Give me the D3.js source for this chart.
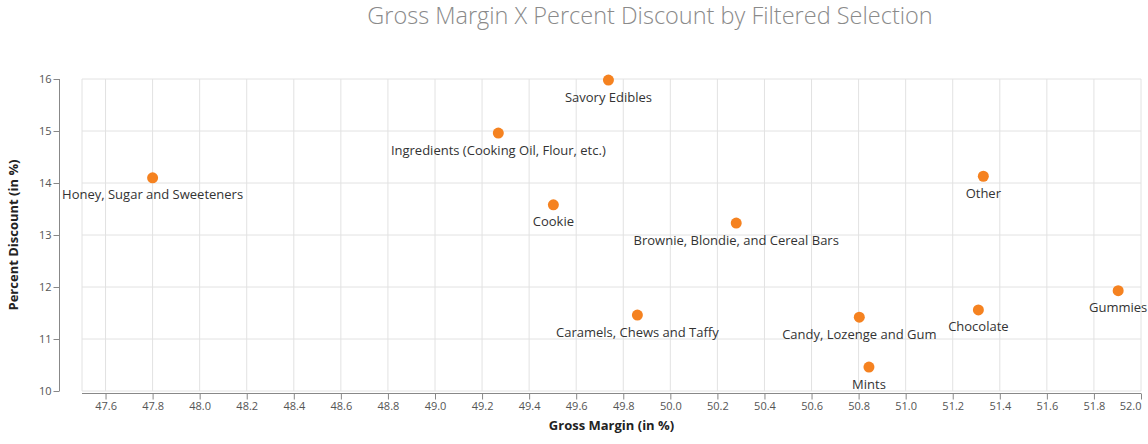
<!DOCTYPE html>
<html>
<head>
<meta charset="utf-8">
<script src="https://cdn.jsdelivr.net/npm/d3@7"></script>
<style>
  html, body { margin: 0; padding: 0; background: #fff; }
  svg { display: block; font-family: "Open Sans", sans-serif; }
</style>
</head>
<body>
<svg id="chart" width="1148" height="444"></svg>
<script>
const categories = [
  "Savory Edibles",
  "Ingredients (Cooking Oil, Flour, etc.)",
  "Honey, Sugar and Sweeteners",
  "Cookie",
  "Brownie, Blondie, and Cereal Bars",
  "Other",
  "Gummies",
  "Chocolate",
  "Candy, Lozenge and Gum",
  "Mints",
  "Caramels, Chews and Taffy"
];
const grossMargin = [49.737, 49.269, 47.80, 49.503, 50.28, 51.33, 51.903, 51.309, 50.803, 50.844, 49.86];
const percentDiscount = [15.98, 14.96, 14.10, 13.58, 13.23, 14.13, 11.93, 11.56, 11.42, 10.46, 11.46];
const xTicks = [47.6, 47.8, 48.0, 48.2, 48.4, 48.6, 48.8, 49.0, 49.2, 49.4, 49.6, 49.8, 50.0, 50.2, 50.4, 50.6, 50.8, 51.0, 51.2, 51.4, 51.6, 51.8, 52.0];
const yTicks = [10, 11, 12, 13, 14, 15, 16];
const xDomain = [47.5, 52.0];
const yDomain = [10, 16];

const svg = d3.select("#chart");
const x = d3.scaleLinear().domain(xDomain).range([82, 1141]);
const y = d3.scaleLinear().domain(yDomain).range([391, 79]);

// title
svg.append("text")
  .attr("x", 650).attr("y", 23.5)
  .attr("text-anchor", "middle")
  .attr("font-size", 23.5).attr("font-weight", 300)
  .attr("fill", "#8a8a8a")
  .text("Gross Margin X Percent Discount by Filtered Selection");

// grid
const grid = svg.append("g");
grid.selectAll("line.v").data(xTicks).enter().append("line")
  .attr("x1", d => x(d)).attr("x2", d => x(d))
  .attr("y1", y(yDomain[0])).attr("y2", y(yDomain[1]))
  .attr("stroke", "#e2e2e2").attr("stroke-width", 1);
grid.append("line")
  .attr("x1", x(xDomain[0])).attr("x2", x(xDomain[0]))
  .attr("y1", y(yDomain[0])).attr("y2", y(yDomain[1]))
  .attr("stroke", "#e2e2e2");
grid.selectAll("line.h").data(yTicks).enter().append("line")
  .attr("x1", x(xDomain[0])).attr("x2", x(xDomain[1]))
  .attr("y1", d => y(d)).attr("y2", d => y(d))
  .attr("stroke", "#e2e2e2").attr("stroke-width", 1);

// x axis
const xAxis = d3.axisBottom(x).tickValues(xTicks).tickFormat(d3.format(".1f")).tickSize(6).tickPadding(3);
const gx = svg.append("g").attr("transform", "translate(0,393.5)").call(xAxis);
gx.select(".domain").attr("stroke", "#888").attr("d", `M${x(xDomain[0])},0H${x(xDomain[1])}`);
gx.selectAll(".tick line").attr("stroke", "#888");
gx.selectAll(".tick text").attr("fill", "#555").attr("font-size", 11).attr("font-family", "Open Sans, sans-serif")
  .attr("text-anchor", (d, i, n) => i === n.length - 1 ? "end" : "middle");

// y axis
const yAxis = d3.axisLeft(y).tickValues(yTicks).tickFormat(d3.format("d")).tickSize(6).tickPadding(2);
const gy = svg.append("g").attr("transform", "translate(59.5,0)").call(yAxis);
gy.select(".domain").attr("stroke", "#888").attr("d", `M0,${y(yDomain[1])}V${y(yDomain[0])}`);
gy.selectAll(".tick line").attr("stroke", "#888");
gy.selectAll(".tick text").attr("fill", "#555").attr("font-size", 11).attr("font-family", "Open Sans, sans-serif");

// axis titles
svg.append("text")
  .attr("x", (x.range()[0] + x.range()[1]) / 2).attr("y", 430)
  .attr("text-anchor", "middle").attr("font-size", 13).attr("font-weight", "bold")
  .attr("fill", "#222").text("Gross Margin (in %)");
svg.append("text")
  .attr("transform", `translate(18,${(y.range()[0] + y.range()[1]) / 2}) rotate(-90)`)
  .attr("text-anchor", "middle").attr("font-size", 13).attr("font-weight", "bold")
  .attr("fill", "#222").text("Percent Discount (in %)");

// points
const data = categories.map((c, i) => ({ c, gm: grossMargin[i], pd: percentDiscount[i] }));
svg.append("g").selectAll("circle").data(data).enter().append("circle")
  .attr("cx", d => x(d.gm)).attr("cy", d => y(d.pd))
  .attr("r", 5.5).attr("fill", "#f58220");
svg.append("g").selectAll("text").data(data).enter().append("text")
  .attr("x", d => x(d.gm)).attr("y", d => y(d.pd) + 21.5)
  .attr("text-anchor", "middle").attr("font-size", 13)
  .attr("fill", "#333").text(d => d.c);
</script>
</body>
</html>
